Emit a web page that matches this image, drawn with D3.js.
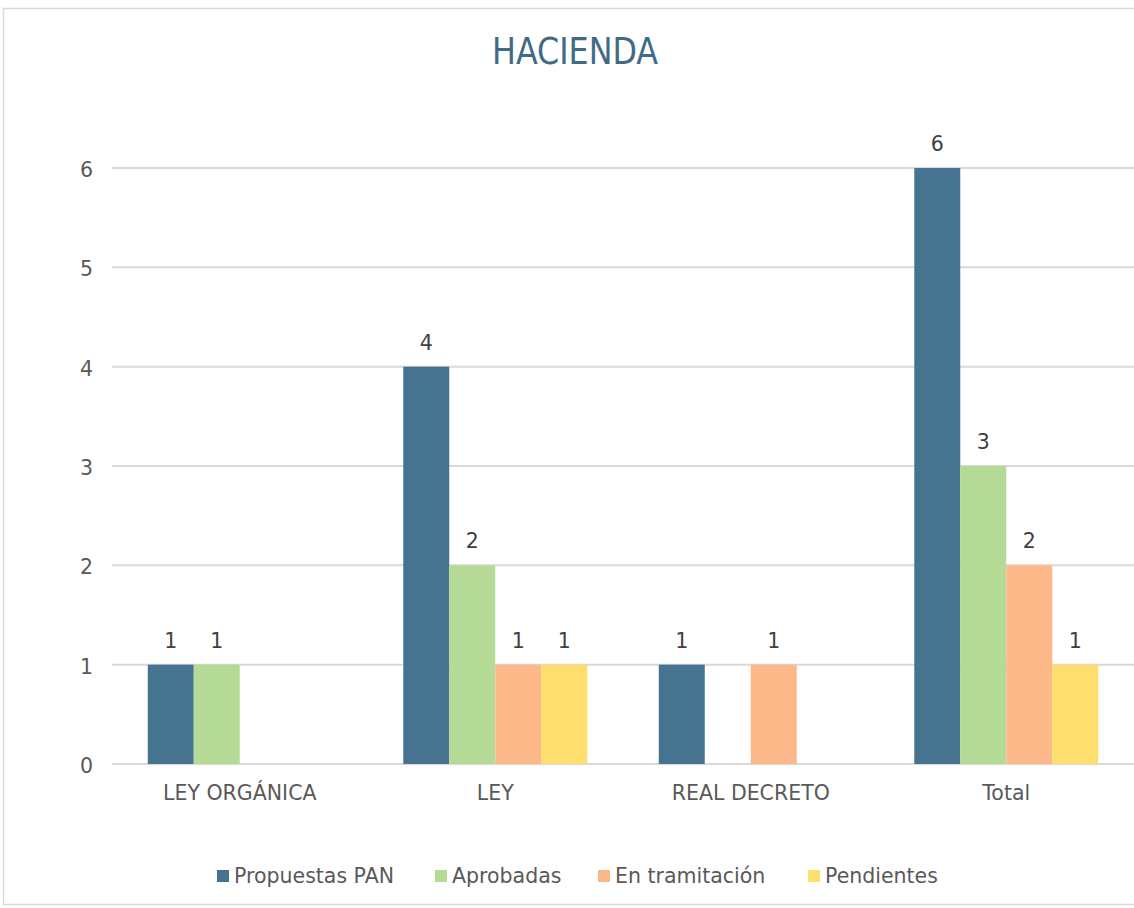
<!DOCTYPE html>
<html><head><meta charset="utf-8">
<script src="https://cdn.jsdelivr.net/npm/d3@7"></script>
<style>body{margin:0;background:#fff}svg{display:block}</style>
</head><body><svg id="c" width="1134" height="908"></svg>
<script>
const title = "HACIENDA";
const categories = ["LEY ORGÁNICA", "LEY", "REAL DECRETO", "Total"];
const seriesNames = ["Propuestas PAN", "Aprobadas", "En tramitación", "Pendientes"];
const propuestas = [1, 4, 1, 6];
const aprobadas = [1, 2, null, 3];
const tramitacion = [null, 1, 1, 2];
const pendientes = [null, 1, null, 1];
const yTicks = [0, 1, 2, 3, 4, 5, 6];
const colors = ["#46738f", "#b4da96", "#fdb88a", "#fedf6e"];
const seriesValues = [propuestas, aprobadas, tramitacion, pendientes];

const svg = d3.select("#c");
const font = "'DejaVu Sans', sans-serif";
const titleFont = "'DejaVu Sans Condensed', 'DejaVu Sans', sans-serif";
const fs = 20.5;
svg.append("rect").attr("x",3.5).attr("y",8.5).attr("width",1140).attr("height",896)
  .attr("fill","#fff").attr("stroke","#d9d9d9").attr("stroke-width",1.5);

const pLeft = 112, pRight = 1134, pTop = 168, pBottom = 764;
const x0 = d3.scaleBand().domain(categories).range([pLeft, pLeft + 255.5*4]).paddingInner(0.28).paddingOuter(0.14);
const x1 = d3.scaleBand().domain(seriesNames).range([0, x0.bandwidth()]);
const y = d3.scaleLinear().domain([0, 6]).range([pBottom, pTop]);

// gridlines
svg.append("g").selectAll("line").data(yTicks).join("line")
  .attr("x1", pLeft).attr("x2", pRight).attr("y1", d=>y(d)).attr("y2", d=>y(d))
  .attr("stroke","#d9d9d9").attr("stroke-width",2);

// y tick labels
const yAxis = d3.axisLeft(y).tickValues(yTicks).tickFormat(d3.format("d")).tickSize(0).tickPadding(0);
const ga = svg.append("g").attr("transform",`translate(93,2)`).call(yAxis);
ga.select(".domain").remove();
ga.selectAll("text").attr("font-family",font).attr("font-size",fs).attr("fill","#595959");

// x axis labels
const xAxis = d3.axisBottom(x0).tickSize(0).tickPadding(0);
const gx = svg.append("g").attr("transform",`translate(0,${pBottom+21})`).call(xAxis);
gx.select(".domain").remove();
gx.selectAll("text").attr("font-family",font).attr("font-size",fs).attr("fill","#595959");

// bars
seriesNames.forEach((s, si) => {
  const vals = seriesValues[si];
  const data = categories.map((c, ci) => ({c, v: vals[ci]})).filter(d => d.v != null);
  const g = svg.append("g");
  g.selectAll("rect").data(data).join("rect")
    .attr("x", d => x0(d.c) + x1(s)).attr("width", x1.bandwidth())
    .attr("y", d => y(d.v)).attr("height", d => y(0) - y(d.v))
    .attr("fill", colors[si]);
  g.selectAll("text").data(data).join("text")
    .attr("x", d => x0(d.c) + x1(s) + x1.bandwidth()/2)
    .attr("y", d => y(d.v) - 17)
    .attr("text-anchor","middle").attr("font-family",font).attr("font-size",fs)
    .attr("fill","#404040").text(d => d.v);
});

// title
svg.append("text").attr("x", 575).attr("y", 64).attr("text-anchor","middle")
  .attr("font-family",titleFont).attr("font-size",37).attr("fill","#3f6b86")
  .attr("textLength",166).attr("lengthAdjust","spacingAndGlyphs").text(title);

// legend
const legX = [217, 435, 598, 808];
const lg = svg.append("g");
seriesNames.forEach((s, i) => {
  lg.append("rect").attr("x", legX[i]).attr("y", 870).attr("width", 12).attr("height", 12).attr("fill", colors[i]);
  lg.append("text").attr("x", legX[i] + 17).attr("y", 883).attr("font-family",font).attr("font-size",fs)
    .attr("fill","#595959").text(s);
});
</script></body></html>
